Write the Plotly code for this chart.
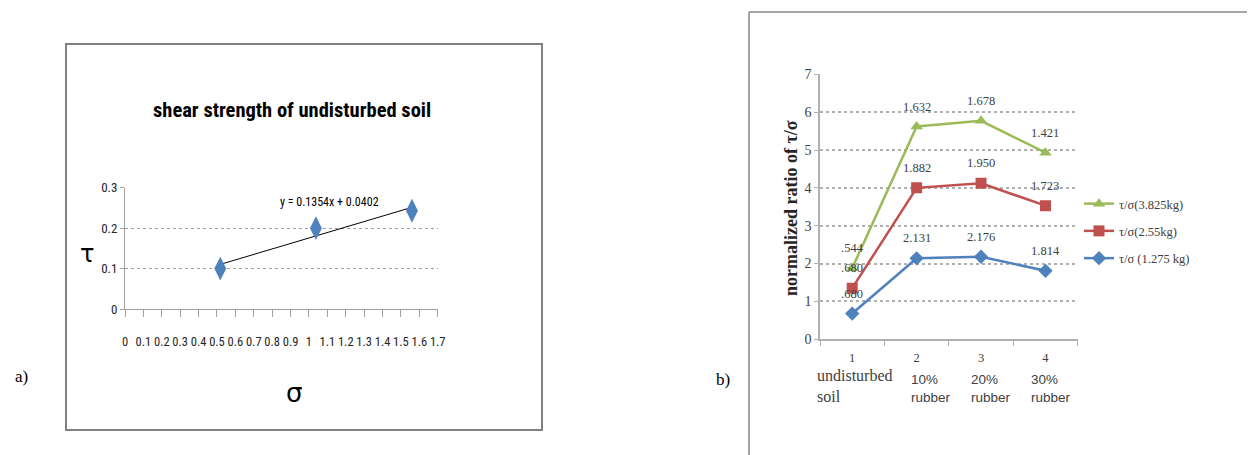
import plotly.graph_objects as go

W, H = 1255, 455
OFF = 8  # page body margin in the browser

# ---------- panel a data ----------
sigma = [0.518, 1.038, 1.56]
tau = [0.1, 0.2, 0.243]
trend_slope = 0.1354
trend_intercept = 0.0402
title_a = "shear strength of undisturbed soil"
eq_text = "y = 0.1354x + 0.0402"

# ---------- panel b data ----------
cats = [1, 2, 3, 4]
cat_num = ["1", "2", "3", "4"]
cat_text = ["undisturbed<br>soil", "10%<br>rubber", "20%<br>rubber", "30%<br>rubber"]
green_vals = [1.88, 5.62, 5.77, 4.93]
red_vals = [1.35, 4.00, 4.12, 3.53]
blue_vals = [0.68, 2.14, 2.18, 1.81]
green_lbl = [".544", "1.632", "1.678", "1.421"]
red_lbl = [".680", "1.882", "1.950", "1.723"]
blue_lbl = [".680", "2.131", "2.176", "1.814"]
names = ["τ/σ(3.825kg)", "τ/σ(2.55kg)", "τ/σ (1.275 kg)"]

NARROW = "Liberation Sans Narrow, Arial Narrow, Roboto Condensed, sans-serif"
SERIF = "Liberation Serif, DejaVu Serif, serif"
SANS = "Liberation Sans, Arial, sans-serif"


def px(x):
    return (x - OFF) / W


def py(y):
    return 1 - (y - OFF) / H


fig = go.Figure()

# panel a
fig.add_trace(go.Scatter(
    x=[sigma[0], sigma[-1]],
    y=[trend_slope * sigma[0] + trend_intercept, trend_slope * sigma[-1] + trend_intercept],
    mode="lines", line=dict(color="#000000", width=1), showlegend=False,
    xaxis="x", yaxis="y"))
fig.add_trace(go.Scatter(
    x=sigma, y=tau, mode="markers",
    marker=dict(symbol="diamond-tall", size=17, color="#4f81bd"),
    showlegend=False, xaxis="x", yaxis="y"))

# panel b
series = [
    (green_vals, green_lbl, "#9bbb59", "triangle-up", 11),
    (red_vals, red_lbl, "#c0504d", "square", 11),
    (blue_vals, blue_lbl, "#4f81bd", "diamond", 11),
]
for i, (vals, lbl, col, sym, sz) in enumerate(series):
    fig.add_trace(go.Scatter(
        x=cats, y=vals, mode="lines+markers", name=names[i],
        line=dict(color=col, width=2.5),
        marker=dict(symbol=sym, size=sz, color=col),
        legendgroup=str(i),
        xaxis="x2", yaxis="y2"))

annotations = []
for vals, lbl, col, sym, sz in series:
    for c, v, t in zip(cats, vals, lbl):
        annotations.append(dict(
            x=c, y=v, xref="x2", yref="y2", text=t, showarrow=False,
            xanchor="center", yanchor="middle",
            yshift=20, font=dict(family=SERIF, size=12.5, color="#404040")))

cat_shift = [-37, -8, -12, -16]
for i, (c, t) in enumerate(zip(cats, cat_text)):
    if i == 0:
        f = dict(family=SERIF, size=16, color="#404040")
        ytop = 365
    else:
        f = dict(family=SANS, size=13.5, color="#404040")
        ytop = 370
    annotations.append(dict(
        x=c, xref="x2", y=py(ytop), yref="paper", yanchor="top",
        xanchor="left", align="left", xshift=cat_shift[i],
        text=t, showarrow=False, font=f))


def ptext(x, y, text, font, **kw):
    d = dict(x=px(x), y=py(y), xref="paper", yref="paper", text=text,
             showarrow=False, xanchor="center", yanchor="middle", font=font)
    d.update(kw)
    return d


# panel a texts
annotations += [
    ptext(292, 110, "<b>" + title_a + "</b>", dict(family=NARROW, size=20.5, color="#000000")),
    ptext(329, 202, eq_text, dict(family=NARROW, size=12, color="#000000")),
    ptext(87, 254, "τ", dict(family="DejaVu Sans, sans-serif", size=24, color="#000000")),
    ptext(294, 393, "σ", dict(family="DejaVu Sans, sans-serif", size=26, color="#000000")),
    ptext(21, 376, "a)", dict(family=SERIF, size=17, color="#000000")),
    ptext(723, 379, "b)", dict(family=SERIF, size=17, color="#000000")),
    ptext(791, 208, "<b>normalized ratio of τ/σ</b>", dict(family=SERIF, size=18, color="#262626"),
          textangle=-90),
]

shapes = [
    dict(type="rect", xref="paper", yref="paper", x0=px(66), x1=px(542), y0=py(430), y1=py(44),
         line=dict(color="#808080", width=2)),
    dict(type="line", xref="paper", yref="paper", x0=px(749), x1=px(749), y0=py(12), y1=py(470),
         line=dict(color="#a6a6a6", width=2)),
    dict(type="line", xref="paper", yref="paper", x0=px(749), x1=px(1254), y0=py(12), y1=py(12),
         line=dict(color="#a6a6a6", width=2)),
    dict(type="line", xref="paper", yref="paper", x0=px(1254), x1=px(1254), y0=py(12), y1=py(470),
         line=dict(color="#a6a6a6", width=2)),
]

fig.update_layout(
    width=W, height=H, margin=dict(l=0, r=0, t=0, b=0, autoexpand=False),
    paper_bgcolor="white", plot_bgcolor="white",
    showlegend=True,
    xaxis=dict(domain=[px(125), px(437.7)], range=[0, 1.7], dtick=0.1, tick0=0, tickangle=0,
               showgrid=False, zeroline=False, showline=True, linecolor="#a0a0a0", linewidth=1,
               ticks="outside", ticklen=7, tickcolor="#a0a0a0", ticklabelstandoff=14,
               tickfont=dict(family=NARROW, size=12.5, color="#262626"), anchor="y"),
    yaxis=dict(domain=[py(309), py(187.7)], range=[0, 0.3], dtick=0.1,
               showgrid=True, gridcolor="#a0a0a0", griddash="dot", gridwidth=1,
               zeroline=False, showline=True, linecolor="#a0a0a0", linewidth=1,
               ticks="outside", ticklen=4, tickcolor="#a0a0a0",
               tickfont=dict(family=NARROW, size=13, color="#262626"), anchor="x"),
    xaxis2=dict(domain=[px(820), px(1077.7)], range=[0.5, 4.5],
                tickvals=cats, ticktext=cat_num, ticks="", tickangle=0,
                minor=dict(tickvals=[0.5, 1.5, 2.5, 3.5, 4.5], ticks="outside", ticklen=5,
                           tickcolor="#b0b0b0", showgrid=False),
                showgrid=False, zeroline=False, showline=True, linecolor="#b0b0b0", linewidth=1.5,
                ticklabelstandoff=6,
                tickfont=dict(family=SERIF, size=12.5, color="#404040"), anchor="y2"),
    yaxis2=dict(domain=[py(339.3), py(74.3)], range=[0, 7], dtick=1,
                showgrid=True, gridcolor="#b0b0b0", griddash="dot", gridwidth=1.5,
                zeroline=False, showline=True, linecolor="#b0b0b0", linewidth=1.5,
                ticks="outside", ticklen=4, tickcolor="#b0b0b0",
                tickfont=dict(family=SERIF, size=14, color="#404040"), anchor="x2"),
    legend=dict(x=px(1079), y=py(189), xanchor="left", yanchor="top",
                font=dict(family=SERIF, size=12.5, color="#404040"),
                tracegroupgap=8, bgcolor="rgba(0,0,0,0)"),
    annotations=annotations, shapes=shapes,
)

fig.write_html("out.html")
